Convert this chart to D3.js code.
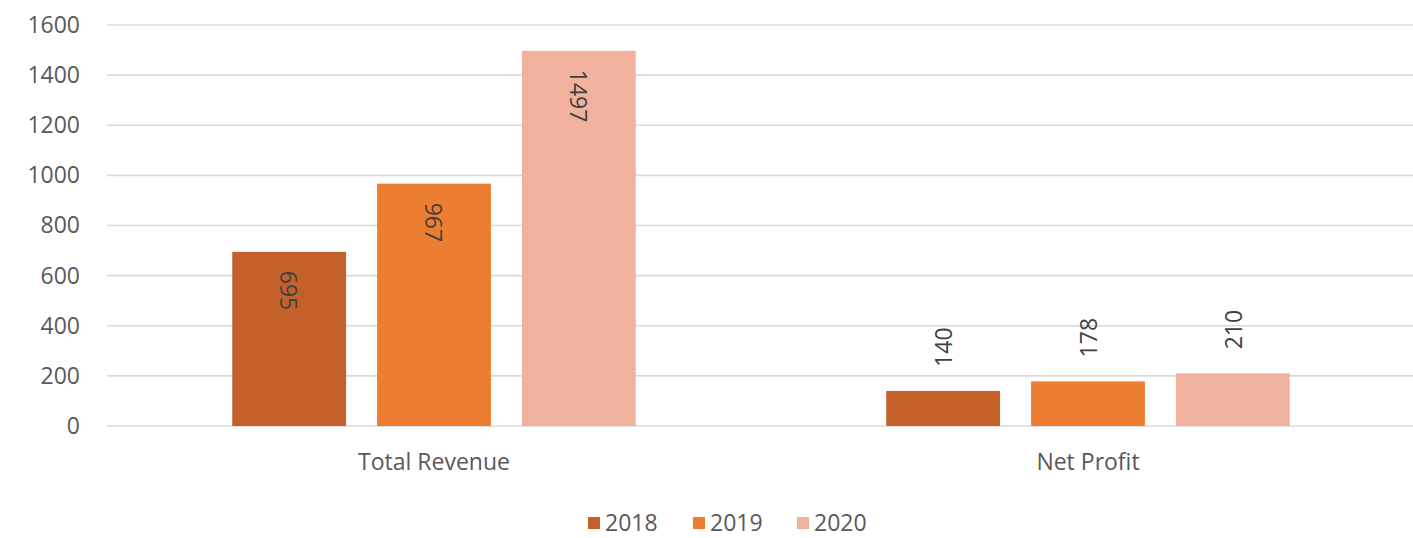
<!DOCTYPE html>
<html lang="en">
<head>
<meta charset="UTF-8">
<title>Total Revenue and Net Profit</title>
<script src="https://d3js.org/d3.v7.min.js"></script>
<style>
  html, body { margin: 0; padding: 0; background: #fff; }
  svg text { font-family: "Open Sans", Lato, sans-serif; }
</style>
</head>
<body>
<svg id="chart" width="1413" height="538"></svg>
<script>
// data
const categories = ["Total Revenue", "Net Profit"];
const years = ["2018", "2019", "2020"];
const values2018 = [695, 140];
const values2019 = [967, 178];
const values2020 = [1497, 210];
const yTicks = [0, 200, 400, 600, 800, 1000, 1200, 1400, 1600];

const seriesValues = [values2018, values2019, values2020];
const colors = ["#C4612B", "#ED7D31", "#F1B29D"];

const svg = d3.select("#chart");
const plotLeft = 107, plotRight = 1415, plotTop = 25, plotBottom = 426;

const y = d3.scaleLinear().domain([0, 1600]).range([plotBottom, plotTop]);
const x0 = d3.scaleBand().domain(categories).range([plotLeft, plotRight])
    .paddingInner(0.383).paddingOuter(0.1915);
const x1 = d3.scaleBand().domain(years).range([0, x0.bandwidth()])
    .paddingInner(0.214).paddingOuter(0);
const color = d3.scaleOrdinal().domain(years).range(colors);

// gridlines
svg.append("g").selectAll("line").data(yTicks).enter().append("line")
    .attr("x1", plotLeft).attr("x2", plotRight)
    .attr("y1", d => y(d)).attr("y2", d => y(d))
    .attr("stroke", "#dadada").attr("stroke-width", 1.6);

// y axis labels
const yAxis = svg.append("g").attr("transform", `translate(${plotLeft},0)`)
    .call(d3.axisLeft(y).tickValues(yTicks).tickFormat(d3.format("d"))
      .tickSize(0).tickPadding(27));
yAxis.select(".domain").remove();
yAxis.selectAll("text").attr("fill", "#595959").style("font-size", "23px")
    .style("font-family", "'Open Sans', sans-serif");

// x axis labels
const xAxis = svg.append("g").attr("transform", `translate(0,${plotBottom})`)
    .call(d3.axisBottom(x0).tickSize(0).tickPadding(28));
xAxis.select(".domain").remove();
xAxis.selectAll("text").attr("fill", "#595959").style("font-size", "23px")
    .style("font-family", "'Open Sans', sans-serif");

// bars
const rows = [];
categories.forEach((c, i) => {
  years.forEach((yr, j) => rows.push({ cat: c, year: yr, value: seriesValues[j][i] }));
});

svg.append("g").selectAll("rect").data(rows).enter().append("rect")
    .attr("x", d => x0(d.cat) + x1(d.year))
    .attr("y", d => y(d.value))
    .attr("width", x1.bandwidth())
    .attr("height", d => plotBottom - y(d.value))
    .attr("fill", d => color(d.year));

// data labels: inside end (rotated down) for tall bars, outside (rotated up) for short
svg.append("g").selectAll("text").data(rows).enter().append("text")
    .text(d => d.value)
    .attr("fill", "#404040")
    .style("font-size", "23px")
    .attr("dominant-baseline", "central")
    .attr("text-anchor", "start")
    .attr("transform", d => {
      const cx = x0(d.cat) + x1(d.year) + x1.bandwidth() / 2;
      if (d.value > 400) return `translate(${cx},${y(d.value) + 19}) rotate(90)`;
      return `translate(${cx},${y(d.value) - 24}) rotate(-90)`;
    });

// legend
const legend = svg.append("g").attr("transform", "translate(588,522)");
const legendX = [0, 105, 209];
years.forEach((yr, i) => {
  const g = legend.append("g").attr("transform", `translate(${legendX[i]},0)`);
  g.append("rect").attr("x", 0).attr("y", -5).attr("width", 12).attr("height", 12)
      .attr("fill", color(yr));
  g.append("text").attr("x", 17).attr("y", 0).attr("dominant-baseline", "central")
      .attr("fill", "#595959").style("font-size", "23px").text(yr);
});
</script>
</body>
</html>
